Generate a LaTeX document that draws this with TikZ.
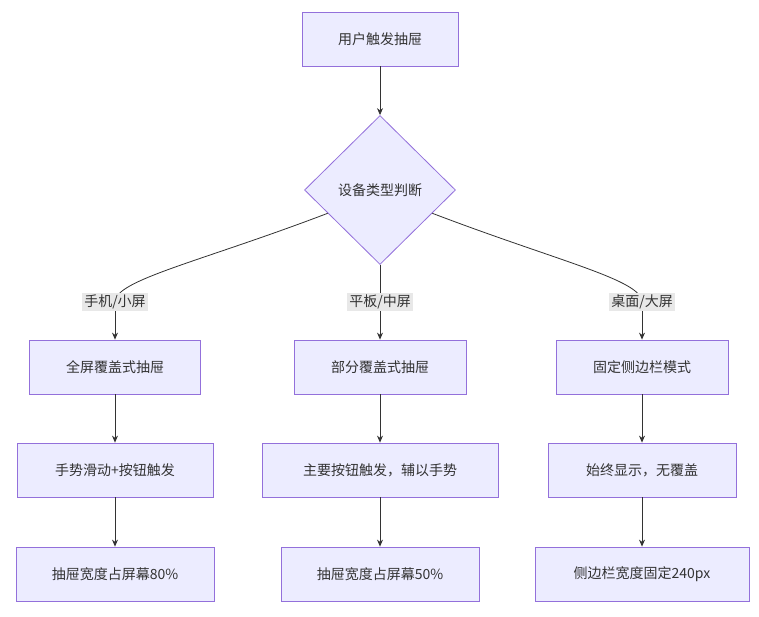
\documentclass[tikz,border=0pt]{standalone}
\usepackage{fontspec}
\newfontfamily\cjk{Noto Sans CJK SC}
\usetikzlibrary{shapes.geometric,arrows.meta}
\definecolor{nfill}{HTML}{ECECFF}
\definecolor{nline}{HTML}{9370DB}
\definecolor{eline}{HTML}{333333}
\definecolor{lbg}{HTML}{E8E8E8}
\begin{document}
\begin{tikzpicture}[x=1pt,y=-1pt,
  font=\cjk\fontsize{14}{16}\selectfont, text=eline,
  box/.style={draw=nline,fill=nfill,line width=0.8pt,minimum height=54pt,inner sep=0pt},
  lab/.style={fill=lbg,inner sep=2pt},
  edge/.style={draw=eline,line width=0.8pt,-{Stealth[length=7pt,width=6pt]}}]
\useasboundingbox (0,0) rectangle (759,617);
\node[box,minimum width=156pt] (t) at (380,39) {用户触发抽屉};
\node[diamond,draw=nline,fill=nfill,line width=0.8pt,minimum width=151pt,minimum height=149pt,inner sep=0pt] (d) at (380,190) {设备类型判断};
\node[box,minimum width=171pt] (a1) at (115,367) {全屏覆盖式抽屉};
\node[box,minimum width=172pt] (b1) at (380,367) {部分覆盖式抽屉};
\node[box,minimum width=172pt] (c1) at (642,367) {固定侧边栏模式};
\node[box,minimum width=196pt] (a2) at (115,470) {手势滑动+按钮触发};
\node[box,minimum width=236pt] (b2) at (380,470) {主要按钮触发，辅以手势};
\node[box,minimum width=188pt] (c2) at (642,470) {始终显示，无覆盖};
\node[box,minimum width=198pt] (a3) at (115,574) {抽屉宽度占屏幕80\%};
\node[box,minimum width=198pt] (b3) at (380,574) {抽屉宽度占屏幕50\%};
\node[box,minimum width=214pt] (c3) at (642,574) {侧边栏宽度固定240px};
\coordinate (la) at (115,302);
\coordinate (lb) at (380,302);
\coordinate (lc) at (642,302);
\draw[edge] (t) -- (d);
\draw[draw=eline,line width=0.8pt] (d.204) .. controls (200,262) and (115,280) .. (la);
\draw[edge] (la) .. controls (115,318) and (115,318) .. (a1);
\draw[edge] (d) -- (b1);
\draw[draw=eline,line width=0.8pt] (d.336) .. controls (560,262) and (642,280) .. (lc);
\draw[edge] (lc) .. controls (642,318) and (642,318) .. (c1);
\node[lab] (l1) at (la) {手机/小屏};
\node[lab] (l2) at (lb) {平板/中屏};
\node[lab] (l3) at (lc) {桌面/大屏};
\draw[edge] (a1) -- (a2); \draw[edge] (a2) -- (a3);
\draw[edge] (b1) -- (b2); \draw[edge] (b2) -- (b3);
\draw[edge] (c1) -- (c2); \draw[edge] (c2) -- (c3);
\end{tikzpicture}
\end{document}
